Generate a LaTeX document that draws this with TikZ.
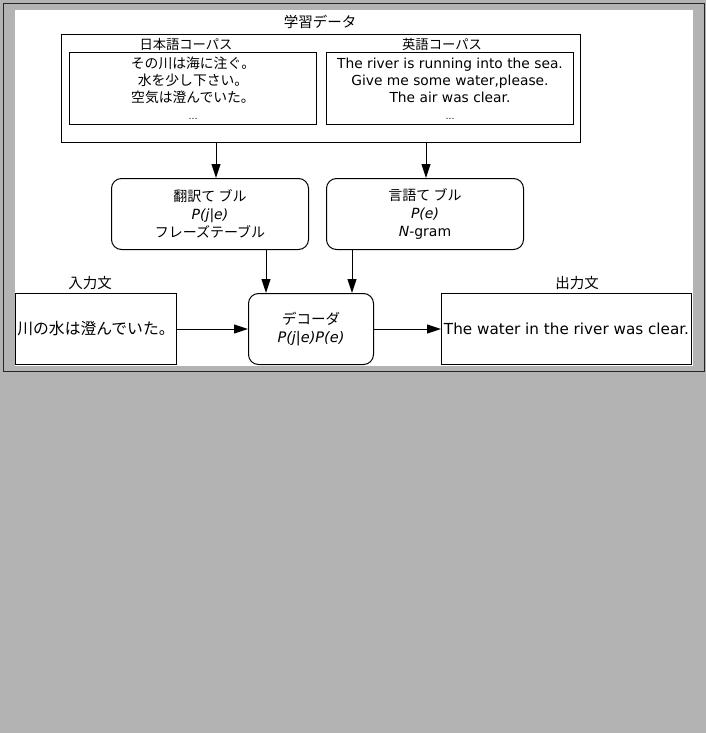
\documentclass[tikz,border=0pt]{standalone}
\usepackage{fontspec}
\setmainfont{DejaVu Sans}
\newfontfamily\jp{Noto Sans CJK JP}
\usetikzlibrary{arrows.meta}
\definecolor{bg}{HTML}{B3B3B3}
\begin{document}
\begin{tikzpicture}[x=1pt,y=-1pt,
  box/.style={draw=black,line width=1pt,fill=white,inner sep=0pt,anchor=north west,align=center},
  rbox/.style={box,rounded corners=10pt},
  lbl/.style={inner sep=0pt,font=\jp\fontsize{14.5}{16}\selectfont},
  slbl/.style={inner sep=0pt,font=\jp\fontsize{13.3}{15}\selectfont},
  txt/.style={font=\fontsize{13.8}{17}\selectfont},
  ttxt/.style={font=\fontsize{14}{18}\selectfont},
  arr/.style={line width=1pt,-{Triangle[length=14pt,width=9pt]}}]
\useasboundingbox (0,0) rectangle (706,733);
\fill[bg] (0,0) rectangle (706,733);
\draw[line width=1pt,black!85] (3.5,3.5) rectangle (704.5,371);
\fill[white] (15,10) rectangle (693,366);
% training data
\node[lbl] (tdl) at (320,22) {学習データ};
\node[box,minimum width=519pt,minimum height=108pt] (data) at (61,34) {};
\node[slbl] (jcl) at (186,44) {日本語コーパス};
\node[slbl] (ecl) at (442,44) {英語コーパス};
\node[box,txt,minimum width=247pt,minimum height=72pt] (jc) at (69,52)
 {{\jp その川は海に注ぐ。}\\{\jp 水を少し下さい。}\\{\jp 空気は澄んでいた。}\\{\small\dots}};
\node[box,txt,minimum width=247pt,minimum height=72pt] (ec) at (326,52)
 {The river is running into the sea.\\Give me some water,please.\\The air was clear.\\{\small\dots}};
% tables
\node[rbox,ttxt,minimum width=197pt,minimum height=71pt] (tm) at (111,178)
 {{\jp 翻訳て ブル}\\\textit{P(j|e)}\\{\jp フレーズテーブル}};
\node[rbox,ttxt,minimum width=197pt,minimum height=71pt] (lm) at (326,178)
 {{\jp 言語て ブル}\\\textit{P(e)}\\\textit{N}-gram};
% bottom row
\node[lbl] (inl) at (90,283) {入力文};
\node[lbl] (outl) at (577,283) {出力文};
\node[box,txt,minimum width=161pt,minimum height=71pt] (in) at (15,293)
 {{\jp\fontsize{15.8}{17}\selectfont 川の水は澄んでいた。}};
\node[rbox,minimum width=125pt,minimum height=71pt,font=\fontsize{14.5}{18}\selectfont] (dec) at (248,293)
 {{\jp デコーダ}\\\textit{P(j|e)P(e)}};
\node[box,minimum width=250pt,minimum height=71pt,font=\fontsize{15.2}{17}\selectfont] (out) at (441,293)
 {The water in the river was clear.};
% connectors
\coordinate (c1) at (216,0);
\coordinate (c2) at (426,0);
\coordinate (c3) at (266,0);
\coordinate (c4) at (352,0);
\draw[arr] (data.south -| c1) -- (tm.north -| c1);
\draw[arr] (data.south -| c2) -- (lm.north -| c2);
\draw[arr] (tm.south -| c3) -- (dec.north -| c3);
\draw[arr] (lm.south -| c4) -- (dec.north -| c4);
\draw[arr] (in.east) -- (dec.west);
\draw[arr] (dec.east) -- (out.west);
\end{tikzpicture}
\end{document}
